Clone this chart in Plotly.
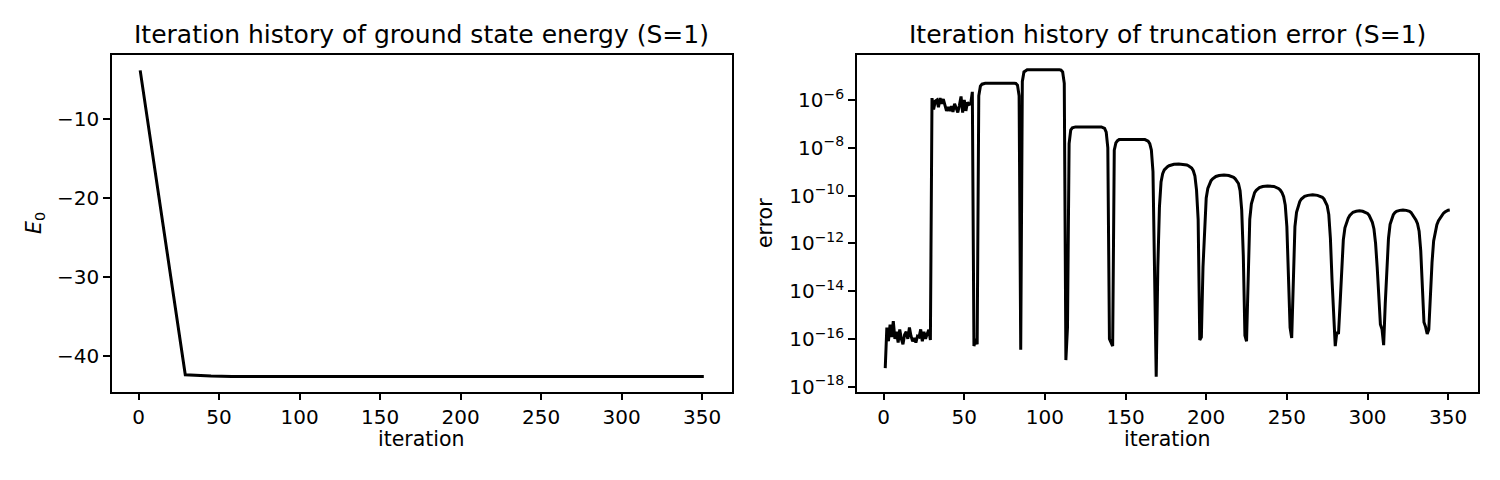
import plotly.graph_objects as go

# ground state energy history (sparse points where the line bends)
energy_iter = [1, 29, 45, 58, 351]
energy_vals = [-3.8, -42.4, -42.55, -42.6, -42.6]

# truncation error history
error_iter = [
    1, 2, 3, 4, 5, 6, 7, 8, 9, 10, 11, 12, 13, 14, 15, 16, 17, 18, 19, 20,
    21, 22, 23, 24, 25, 26, 27, 28, 29,
    30, 31, 32, 33, 34, 35, 36, 37, 38, 39, 40, 41, 42, 43, 44, 45, 46, 47,
    48, 49, 50, 51, 52, 53, 54, 55, 56, 57, 58,
    59, 60, 61, 62, 63, 81, 82, 83, 84, 85,
    86, 87, 88, 89, 109, 110, 111, 112, 113, 114,
    115, 116, 117, 118, 119, 135, 136, 137, 138, 139, 140, 141, 142,
    143, 144, 145, 146, 162, 163, 164, 165, 166, 167, 168, 169, 170,
    171, 172, 173, 174, 175, 176, 177, 178, 180, 183, 186, 188, 189, 190, 191, 192, 193, 194, 195, 196, 197,
    198, 199, 200, 201, 202, 203, 204, 205, 206, 208, 211, 214, 216, 217, 218, 219, 220, 221, 222, 223, 224, 225,
    226, 227, 228, 229, 230, 231, 232, 233, 235, 238, 242, 244, 245, 246, 247, 248, 249, 250, 251, 252, 253,
    254, 255, 256, 257, 258, 259, 260, 261, 263, 266, 269, 271, 272, 273, 274, 275, 276, 277, 278, 279, 280, 281,
    282, 283, 284, 285, 286, 287, 288, 289, 290, 291, 293, 295, 297, 299, 300, 301, 302, 303, 304, 305, 306, 307,
    308, 309, 310, 311,
    312, 313, 314, 315, 316, 317, 318, 320, 322, 324, 326, 327, 328, 329, 330, 331, 332, 333, 334,
    335, 336, 337, 338, 339,
    340, 341, 342, 343, 344, 345, 346, 347, 348, 349, 350, 351,
]
error_vals = [
    6e-18, 3e-16, 8e-17, 4e-16, 1.2e-16, 5.5e-16, 1e-16, 2e-16, 7e-17, 2.5e-16,
    1e-16, 6e-17, 1.5e-16, 2e-16, 1e-16, 3e-16, 1.3e-16, 8e-17, 1.1e-16, 7e-17,
    1.3e-16, 1.2e-16, 2.5e-16, 8e-17, 2e-16, 1e-16, 1.6e-16, 2.4e-16, 9e-17,
    1.2e-6, 4e-7, 9e-7, 1e-6, 5e-7, 1.2e-6, 7e-7, 1.1e-6, 6e-7, 3.5e-7, 5e-7,
    3.5e-7, 5.5e-7, 3.2e-7, 7e-7, 4.5e-7, 3e-7, 6e-7, 1.4e-6, 3e-7, 1e-6,
    3.5e-7, 8e-7, 6.5e-7, 7e-7, 2.2e-6, 5e-17, 1e-16, 6e-17,
    1.5e-6, 3.8e-6, 4.6e-6, 4.9e-6, 5e-6, 5e-6, 4.9e-6, 4.2e-6, 1.5e-6, 3.5e-17,
    6e-6, 1.5e-5, 1.75e-5, 1.85e-5, 1.85e-5, 1.78e-5, 1.5e-5, 5e-6, 1.3e-17, 3e-16,
    1.5e-8, 5.5e-8, 6.8e-8, 7.3e-8, 7.5e-8, 7.5e-8, 7.2e-8, 6.5e-8, 4.5e-8, 1e-8, 1e-16, 7e-17, 5e-17,
    8e-9, 1.6e-8, 2e-8, 2.2e-8, 2.2e-8, 2.1e-8, 1.9e-8, 1.5e-8, 8e-9, 1e-9, 1e-13, 2.6e-18, 1e-13,
    3.3e-11, 3.7e-10, 8.3e-10, 1.18e-9, 1.42e-9, 1.62e-9, 1.78e-9, 1.9e-9, 2.05e-9, 2.1e-9,
    2.05e-9, 1.9e-9, 1.78e-9, 1.62e-9, 1.42e-9, 1.1e-9, 6.6e-10, 1.7e-10, 1e-11, 9e-17, 1.2e-16,
    1e-13, 5e-12, 8e-11, 2e-10, 3.2e-10, 4.2e-10, 5e-10, 5.75e-10, 6.3e-10, 6.9e-10, 7.2e-10,
    6.9e-10, 6.3e-10, 5.75e-10, 5e-10, 4.2e-10, 3.2e-10, 1.6e-10, 2.5e-11, 3e-13, 1.4e-16, 8e-17,
    1e-13, 1e-11, 4.5e-11, 9e-11, 1.32e-10, 1.66e-10, 1.95e-10, 2.14e-10, 2.4e-10, 2.5e-10,
    2.4e-10, 2.14e-10, 1.95e-10, 1.66e-10, 1.32e-10, 9e-11, 4e-11, 5e-12, 3e-14, 3e-16, 1.1e-16,
    3e-14, 5e-12, 2e-11, 3.8e-11, 5.6e-11, 7.2e-11, 8.5e-11, 9.3e-11, 1.02e-10, 1.07e-10,
    1.02e-10, 9.3e-11, 8.5e-11, 7.2e-11, 5.6e-11, 3.8e-11, 1.6e-11, 1.6e-12, 3e-14, 5e-16, 5e-17, 2e-16,
    1.6e-16, 3e-15, 6e-14, 1.4e-12, 4.5e-12, 7.6e-12, 1.12e-11, 1.48e-11, 1.78e-11, 2e-11, 2.2e-11, 2.3e-11,
    2.2e-11, 2e-11, 1.78e-11, 1.48e-11, 1.12e-11, 7.6e-12, 4e-12, 1e-12, 1e-13, 3e-15,
    4e-16, 2.5e-16, 5.5e-17, 3e-15,
    1e-13, 1.6e-12, 6.3e-12, 1.12e-11, 1.58e-11, 1.95e-11, 2.2e-11, 2.4e-11, 2.5e-11, 2.4e-11,
    2.2e-11, 1.95e-11, 1.58e-11, 1.26e-11, 9.5e-12, 6.6e-12, 3.2e-12, 5e-13, 3e-14,
    5e-16, 3.2e-16, 1.6e-16, 2.5e-16, 1e-14,
    1.6e-13, 1.26e-12, 3.5e-12, 6e-12, 8.9e-12, 1.17e-11, 1.48e-11, 1.78e-11, 2.04e-11, 2.3e-11, 2.45e-11, 2.5e-11,
]

x_ticks = [0, 50, 100, 150, 200, 250, 300, 350]
energy_ticks = [-40, -30, -20, -10]
error_ticks = [-18, -16, -14, -12, -10, -8, -6]
error_tick_text = ["10<sup>\u2212%d</sup>" % (-t) for t in error_ticks]

FONT = "DejaVu Sans"
# the page body has an 8px margin on every side; keep the whole page inside 1500x480
OFF = 8
W, H = 1500 - 2 * OFF, 480 - 2 * OFF
# the photographed page came out slightly squashed vertically, stretch to compensate
SY = 1.015


def px_x(p):
    return (p - OFF) / W


def px_y(p):
    return 1 - (p * SY - OFF) / H


fig = go.Figure()
fig.add_trace(go.Scatter(x=energy_iter, y=energy_vals, mode="lines",
                         line=dict(color="black", width=3), xaxis="x", yaxis="y"))
fig.add_trace(go.Scatter(x=error_iter, y=error_vals, mode="lines",
                         line=dict(color="black", width=3), xaxis="x2", yaxis="y2"))

axis_style = dict(
    showline=True, linecolor="black", linewidth=1.6, mirror=True,
    ticks="outside", ticklen=7, tickwidth=1.5, tickcolor="black",
    showgrid=False, zeroline=False,
    tickfont=dict(family=FONT, size=20, color="black"),
)

fig.update_layout(
    width=W, height=H,
    margin=dict(l=0, r=0, t=0, b=0),
    paper_bgcolor="white", plot_bgcolor="white",
    showlegend=False,
    font=dict(family=FONT, color="black"),
    xaxis=dict(domain=[px_x(112), px_x(732)], range=[-16.5, 368.5],
               tickvals=x_ticks, anchor="y", **axis_style),
    yaxis=dict(domain=[px_y(391.7), px_y(55)], range=[-44.54, -1.86],
               tickvals=energy_ticks, anchor="x", **axis_style),
    xaxis2=dict(domain=[px_x(857), px_x(1478)], range=[-16.5, 368.5],
                tickvals=x_ticks, anchor="y2", **axis_style),
    yaxis2=dict(domain=[px_y(391.7), px_y(55)], type="log", range=[-18.21, -4.12],
                tickvals=[10.0 ** t for t in error_ticks], ticktext=error_tick_text,
                anchor="x2", **axis_style),
)

# titles and axis labels
labels = [
    ("Iteration history of ground state energy (S=1)", 422, 34, 25, 0),
    ("Iteration history of truncation error (S=1)", 1167, 34, 25, 0),
    ("iteration", 422, 439, 20.5, 0),
    ("iteration", 1167, 439, 20.5, 0),
    ("<i>E</i><sub>0</sub>", 35, 223, 20.5, -90),
    ("error", 765, 223, 20.5, -90),
]
for text, x, y, size, angle in labels:
    fig.add_annotation(text=text, x=px_x(x), y=px_y(y), xref="paper", yref="paper",
                       xanchor="center", yanchor="middle", showarrow=False,
                       textangle=angle, font=dict(family=FONT, size=size, color="black"))

fig.write_html("out.html")
